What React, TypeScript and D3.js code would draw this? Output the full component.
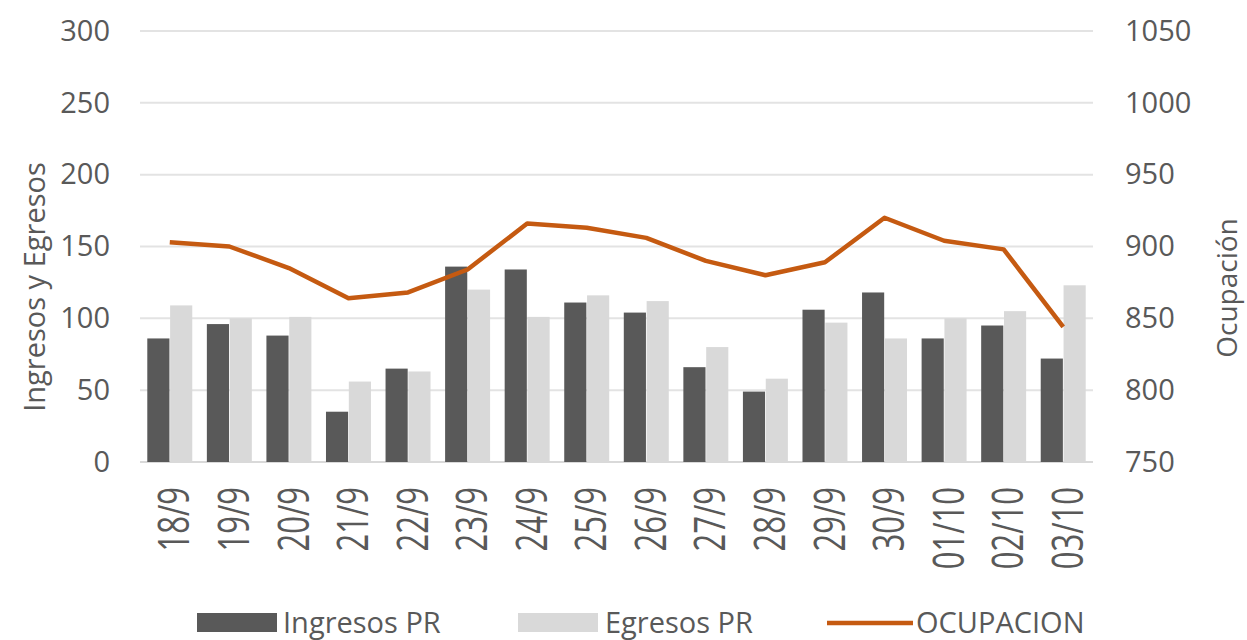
import React from "react";
import * as d3 from "d3";

const categories = ["18/9", "19/9", "20/9", "21/9", "22/9", "23/9", "24/9", "25/9", "26/9", "27/9", "28/9", "29/9", "30/9", "01/10", "02/10", "03/10"];
const ingresos = [86, 96, 88, 35, 65, 136, 134, 111, 104, 66, 49, 106, 118, 86, 95, 72];
const egresos = [109, 100, 101, 56, 63, 120, 101, 116, 112, 80, 58, 97, 86, 100, 105, 123];
const ocupacion = [903, 900, 885, 864, 868, 884, 916, 913, 906, 890, 880, 889, 920, 904, 898, 844];
const leftTicks = [0, 50, 100, 150, 200, 250, 300];
const rightTicks = [750, 800, 850, 900, 950, 1000, 1050];
const seriesNames = ["Ingresos PR", "Egresos PR", "OCUPACION"];

const W = 1247;
const H = 640;
const FONT = "'Open Sans', sans-serif";
const TXT = "#595959";
const DARK = "#595959";
const LIGHT = "#d9d9d9";
const LINE = "#c55a11";

export default function App() {
  const left = 140, right = 1093, top = 31, bottom = 462;
  const x = d3.scaleBand<string>().domain(categories).range([left, right]).paddingInner(0.245).paddingOuter(0.1225);
  const xi = d3.scaleBand<string>().domain(["i", "e"]).range([0, x.bandwidth()]).paddingInner(0.03);
  const yL = d3.scaleLinear().domain([0, 300]).range([bottom, top]);
  const yR = d3.scaleLinear().domain([750, 1050]).range([bottom, top]);
  const cx = (c: string) => (x(c) as number) + x.bandwidth() / 2;
  const line = d3.line<number>().x((_, i) => cx(categories[i])).y((d) => yR(d));

  return (
    <svg width={W} height={H} style={{ position: "absolute", left: 0, top: 0, background: "#fff" }} fontFamily={FONT}>
      {leftTicks.map((t) => (
        <line key={"g" + t} x1={left} x2={right} y1={yL(t)} y2={yL(t)} stroke={t === 0 ? "#d9d9d9" : "#e3e3e3"} strokeWidth={2} />
      ))}
      {leftTicks.map((t) => (
        <text key={"l" + t} x={110} y={yL(t) + 2} textAnchor="end" dominantBaseline="middle" fontSize={29} fill={TXT}>{t}</text>
      ))}
      {rightTicks.map((t) => (
        <text key={"r" + t} x={1125} y={yR(t) + 2} textAnchor="start" dominantBaseline="middle" fontSize={29} fill={TXT}>{t}</text>
      ))}
      {categories.map((c, i) => (
        <g key={"b" + c}>
          <rect x={(x(c) as number) + (xi("i") as number)} y={yL(ingresos[i])} width={xi.bandwidth()} height={bottom - yL(ingresos[i])} fill={DARK} />
          <rect x={(x(c) as number) + (xi("e") as number)} y={yL(egresos[i])} width={xi.bandwidth()} height={bottom - yL(egresos[i])} fill={LIGHT} />
        </g>
      ))}
      <path d={line(ocupacion) || ""} fill="none" stroke={LINE} strokeWidth={4.5} strokeLinejoin="round" />
      {categories.map((c) => (
        <text key={"x" + c} transform={`translate(${cx(c) + 4},487) scale(1.4,1) rotate(-90)`} textAnchor="end" dy="0.36em" fontSize={31} fill={TXT}>{c}</text>
      ))}
      <text transform={`translate(35,287) rotate(-90)`} textAnchor="middle" dy="0.36em" fontSize={29} fill={TXT}>Ingresos y Egresos</text>
      <text transform={`translate(1227,288) rotate(-90)`} textAnchor="middle" dy="0.36em" fontSize={28} fill={TXT}>Ocupación</text>
      <rect x={197} y={613} width={80} height={19} fill={DARK} />
      <text x={283} y={623} dy="0.36em" fontSize={29} fill={TXT}>{seriesNames[0]}</text>
      <rect x={518} y={613} width={80} height={19} fill={LIGHT} />
      <text x={605} y={623} dy="0.36em" fontSize={29} fill={TXT}>{seriesNames[1]}</text>
      <line x1={827} x2={913} y1={623} y2={623} stroke={LINE} strokeWidth={4.5} />
      <text x={916} y={623} dy="0.36em" fontSize={29} fill={TXT}>{seriesNames[2]}</text>
    </svg>
  );
}
